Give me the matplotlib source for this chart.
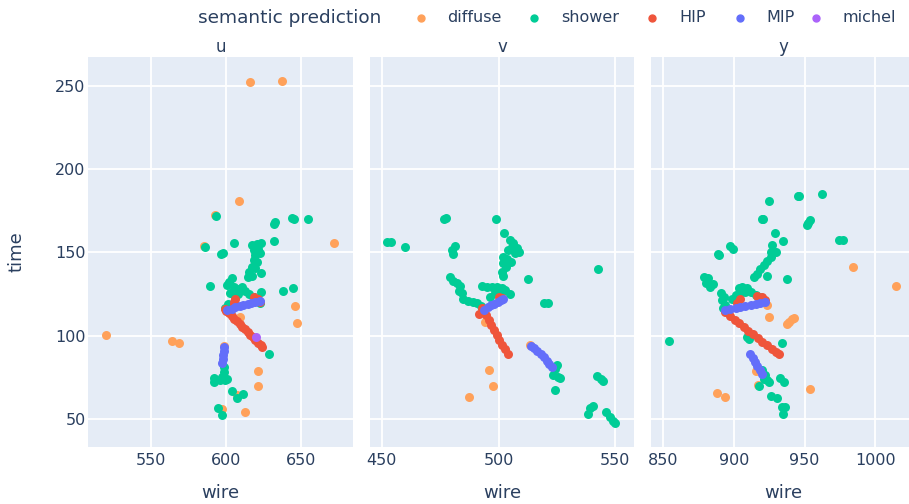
import matplotlib
matplotlib.use('Agg')
import matplotlib.pyplot as plt
from matplotlib.lines import Line2D

# semantic classes and plotly default colours
classes = ['diffuse', 'shower', 'HIP', 'MIP', 'michel']
colors = ['#FFA15A', '#00CC96', '#EF553B', '#636EFA', '#AB63FA']
planes = ['u', 'v', 'y']

# (wire, time) hits
u_diffuse = [(616, 252), (637, 252.5), (609, 181), (672, 155.6), (520.3, 100.6), (564, 97), (569, 95.8),
             (646, 118), (647.6, 107.8), (621.7, 79), (621.2, 70), (612.8, 54.4), (609.5, 111), (598.5, 94),
             (607.3, 64.4), (597.3, 56.4), (585.6, 153.6), (593, 172.3)]
u_shower = [(593.4, 172), (631.7, 167), (632.8, 168.2), (643.8, 170.4), (645.4, 170), (654.9, 169.8),
            (631.7, 157), (605.1, 155.8), (597.8, 149.4), (596.7, 148.8), (586.3, 153.4), (589.6, 129.8),
            (638.3, 127), (644.3, 128.8), (623.5, 126.4), (628.8, 89),
            (617.3, 154.4), (620.6, 155), (623.5, 155.4), (618.4, 151.4), (621.7, 151.8), (619.5, 148.4),
            (622.8, 149.4), (618.4, 145.4), (620.6, 144.4), (617.3, 141.4), (619.5, 140.4), (615.7, 138.4),
            (623.2, 137.4), (614.4, 135.4), (617.3, 135.8),
            (601.8, 132.4), (604, 134.4), (600.7, 130.4), (605.1, 129.4), (607.3, 127.8), (610.6, 129),
            (612.8, 127), (615.7, 125), (618.8, 123), (608.4, 125), (602.9, 125.8), (606.2, 123),
            (621.7, 121), (622.8, 119.8), (601.3, 119), (599.6, 116.4),
            (598.5, 81.4), (598.9, 78.4), (597.3, 75.4), (599.6, 73.4), (591.8, 74.4), (592.3, 72),
            (601.1, 73.8), (595.8, 73.4), (604, 67), (611.7, 65), (607.7, 63), (595.1, 57), (597.3, 52.4)]
u_hip = [(606.4, 122), (605.5, 120.4), (605.1, 119), (619, 123.4), (621.2, 122), (622.8, 120.4),
         (599.4, 116), (600.2, 115), (602, 113.4), (603.8, 111.8), (605.5, 110.2), (607.3, 108.6),
         (609.1, 107), (610.8, 105.4), (612.6, 103.8), (614.4, 102.2), (616.2, 100.6), (617.9, 99),
         (619.7, 97.4), (621.5, 95.8), (623.2, 94.2), (624.1, 93)]
u_mip = [(601.1, 115.4), (603.8, 116.2), (606.4, 117), (609.1, 117.8), (611.7, 118.6), (614.4, 119.2),
         (617, 119.8), (619.7, 120.4), (622.4, 121),
         (598.9, 93.4), (598.5, 91), (598.2, 88.6), (597.8, 86.2), (597.3, 83.8)]
u_michel = [(620.1, 99)]

v_diffuse = [(495.9, 79.2), (497.7, 70), (487.4, 63.6), (494.1, 108), (513.6, 94.2)]
v_shower = [(452, 156), (454.1, 156), (459.9, 153.2), (476.6, 170.2), (477.4, 170.6), (498.9, 170),
            (502.5, 161.8), (479.9, 151.6), (481.3, 154), (480.3, 149.2), (542.7, 140), (512.7, 134.2),
            (519.3, 119.8), (521, 119.7),
            (524.1, 80), (523.4, 76.6), (526.3, 74.6), (524.9, 82.6), (524.1, 67.2), (525.6, 75.4),
            (542, 75.6), (543.7, 74), (544.9, 72.6), (539.1, 56.6), (540.6, 58), (538.4, 53),
            (545.9, 54.6), (547.7, 51.6), (549.1, 49.2), (549.9, 47.6),
            (504.9, 157.4), (506.3, 155.4), (507.7, 152.4), (508.9, 150), (505.6, 153.4), (507, 149.4),
            (504.1, 151.4), (502, 147.4), (503.4, 145.8), (501.7, 143.4), (503.1, 141.4), (501.3, 138.4),
            (502, 135.8), (505.1, 144.4),
            (479.1, 135), (480.6, 133), (482, 131.4), (483.4, 129.8), (484.1, 125.8), (483.1, 127),
            (484.9, 121.8), (487, 121), (489.1, 120.2), (490.9, 119.4), (492.3, 117.8),
            (492.7, 129.8), (495.1, 129), (497, 129), (499.1, 129), (501.3, 128.4), (502.7, 127.4),
            (504.9, 125), (498.4, 125.4), (496.3, 123), (500.6, 126.4)]
v_hip = [(500.3, 123.4), (501.3, 122.4), (492.7, 116.4), (491.7, 113),
         (493.4, 115.4), (494.6, 112.4), (495.7, 109.4), (496.9, 106.4), (498, 103.4), (499.1, 100.4),
         (500.3, 97.4), (501.4, 94.4), (502.6, 91.8), (504, 89)]
v_mip = [(493.9, 115.4), (495.3, 117), (496.7, 118.2), (498.1, 119.2), (499.6, 120.2), (501, 121.2),
         (502, 121.8),
         (513.7, 93.8), (515.1, 92.4), (516.6, 90.8), (518, 89), (519.3, 87), (520.6, 84.8),
         (521.7, 82.8), (522.7, 81.4)]
v_michel = []

y_diffuse = [(984.5, 141), (1014.5, 129.6), (888.1, 65.6), (894, 63.6), (954, 68.2), (924.6, 111.4),
             (937.4, 107.2), (938.8, 108.4), (941, 109.8), (942.7, 110.7), (916, 79.1), (916.8, 70.4),
             (923.4, 118.5)]
y_shower = [(854, 97), (925, 180.6), (945, 183.6), (945.7, 183.6), (962.1, 185.2), (919.8, 170.2),
            (920.5, 170.2), (952.7, 167.6), (953.9, 169.2), (952, 166.6), (974.6, 157.6), (977.4, 157.2),
            (929.3, 161.6), (934.7, 157), (888.7, 149.3), (889.3, 148.6), (897.1, 153.9), (899.7, 152.3),
            (937.5, 134.2), (934, 95.7), (933.9, 57.6), (936.3, 57.6), (934.8, 53), (926.5, 64),
            (930.5, 62.5), (917.9, 69.9), (932.8, 74.5), (935.2, 72.5),
            (878.8, 135.4), (881.7, 134.4), (880, 131.4), (883.1, 129.4), (885.4, 131), (890.6, 125.8),
            (891.8, 121.4), (894.1, 118.4), (892.5, 116.4), (893.4, 123.4),
            (903.5, 128.4), (905.9, 129.4), (909.4, 128.4), (912.2, 126.4), (915.3, 124.4), (918.3, 123),
            (901.2, 124.4), (898.8, 121.8), (904.7, 125.4), (908.2, 126),
            (927, 154.4), (930.1, 150.4), (926.3, 147.4), (923.5, 145), (921.2, 142.4), (918.8, 139.8),
            (916.5, 137), (914.1, 135.4), (923.5, 136), (925.9, 150.4),
            (909.4, 99.4), (910.6, 97.8), (920, 79.4), (922.3, 76.4), (923.5, 73.4), (921.2, 73.8),
            (924.7, 72.4)]
y_hip = [(904.7, 121.8), (902.4, 119.8), (916.5, 123.8), (920, 123), (922.3, 121.4),
         (894.1, 114.4), (897.2, 111.8), (900.5, 109.6), (903.8, 107.4), (907.1, 105.2), (910.3, 103),
         (913.6, 100.8), (916.9, 98.6), (920.2, 96.4), (923.5, 94.2), (926.8, 92), (930.1, 90),
         (931.7, 89)]
y_mip = [(894.1, 115.4), (897.6, 116.2), (901.2, 116.8), (904.7, 117.4), (908.2, 118), (911.8, 118.6),
         (915.3, 119.2), (918.8, 119.8), (922.3, 120.4),
         (911.3, 88.8), (913.2, 86.4), (914.8, 84), (916.5, 81.6), (918.3, 79.2), (920, 77.2)]
y_michel = []

hits = {
    'u': [u_diffuse, u_shower, u_hip, u_mip, u_michel],
    'v': [v_diffuse, v_shower, v_hip, v_mip, v_michel],
    'y': [y_diffuse, y_shower, y_hip, y_mip, y_michel],
}
xticks = {'u': [550, 600, 650], 'v': [450, 500, 550], 'y': [850, 900, 950, 1000]}
yticks = [50, 100, 150, 200, 250]

# layout, in pixels of the 909x504 picture
W, H = 909, 504
TXT = '#2a3f5f'
BG = '#E5ECF6'
px_left = {'u': 88.3, 'v': 370, 'y': 651}
px_right = {'u': 352.7, 'v': 634, 'y': 909}
px_center = {'u': 220.5, 'v': 502, 'y': 783}
xlims = {'u': (508.6, 684.3), 'v': (444.9, 558), 'y': (841.5, 1023.7)}
top, bottom = 57.3, 446.7

plt.rcParams['font.family'] = 'DejaVu Sans'
fig = plt.figure(figsize=(W / 100, H / 100), dpi=100)

for i, p in enumerate(planes):
    ax = fig.add_axes([px_left[p] / W, 1 - bottom / H,
                       (px_right[p] - px_left[p]) / W, (bottom - top) / H])
    ax.set_facecolor(BG)
    for sp in ax.spines.values():
        sp.set_visible(False)
    for k, cls in enumerate(classes):
        pts = hits[p][k]
        if not pts:
            continue
        ax.scatter([q[0] for q in pts], [q[1] for q in pts], s=42, color=colors[k],
                   linewidths=0, zorder=3 + k)
    ax.set_xlim(*xlims[p])
    ax.set_ylim(33.5, 267)
    ax.set_xticks(xticks[p])
    ax.set_yticks(yticks)
    ax.grid(True, color='white', linewidth=1.3)
    ax.set_axisbelow(True)
    ax.tick_params(length=0, labelsize=11.5, labelcolor=TXT)
    ax.tick_params(axis='x', pad=4.5)
    ax.tick_params(axis='y', pad=2)
    if i > 0:
        ax.tick_params(labelleft=False)
    fig.text(px_center[p] / W, 1 - 46.7 / H, p, ha='center', va='center', fontsize=12, color=TXT)
    fig.text(px_center[p] / W, 1 - 493 / H, 'wire', ha='center', va='center', fontsize=13, color=TXT)

fig.text(17 / W, 1 - 252 / H, 'time', rotation=90, ha='center', va='center', fontsize=13, color=TXT)

# legend along the top
fig.text(197.7 / W, 1 - 18 / H, 'semantic prediction', ha='left', va='center', fontsize=13.3, color=TXT)
leg_marker_x = [420.5, 534.4, 652, 739.5, 816]
for k, cls in enumerate(classes):
    fig.add_artist(Line2D([leg_marker_x[k] / W], [1 - 18 / H], marker='o', markersize=5,
                          color=colors[k], linestyle='none', transform=fig.transFigure))
    fig.text((leg_marker_x[k] + 27) / W, 1 - 18 / H, cls, ha='left', va='center',
             fontsize=11.5, color=TXT)

fig.savefig('out.png', dpi=100)
